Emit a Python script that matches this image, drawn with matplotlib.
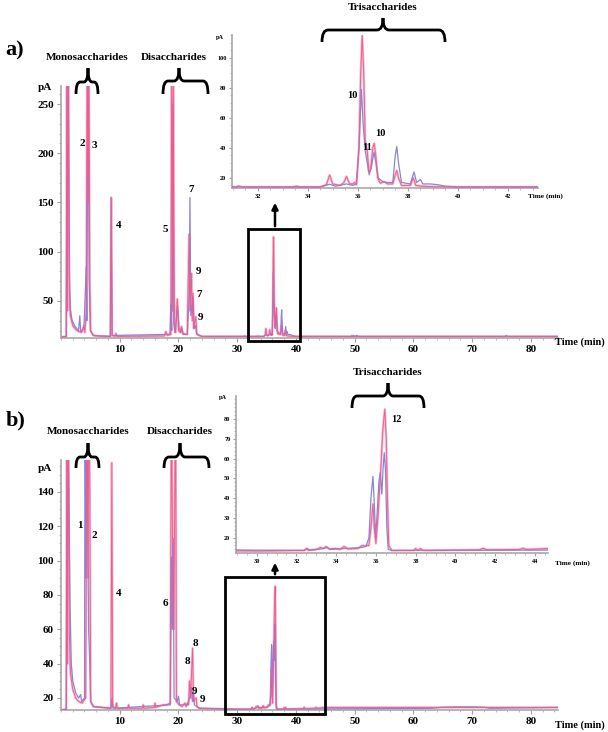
import matplotlib
matplotlib.use("Agg")
import matplotlib.pyplot as plt
from matplotlib.path import Path
from matplotlib.patches import PathPatch, Rectangle, FancyArrowPatch
from matplotlib.ticker import MultipleLocator

plt.rcParams['font.family'] = ['Liberation Serif', 'DejaVu Serif']
plt.rcParams['font.weight'] = 'bold'

# ---- panel a traces (time in min, signal in pA) ----
a_pink_t = [0.2, 0.9, 1.0, 1.1, 1.25, 1.4, 1.6, 2.0, 2.5, 3.0, 3.5, 3.9, 4.05, 4.3, 4.45, 4.6,
            4.75, 4.9, 5.05, 5.5, 6.0, 8.4, 8.55, 8.7, 9.2, 9.35, 9.5, 17.6, 17.85, 18.1, 18.7,
            18.85, 19.0, 19.1, 19.3, 19.5, 19.8, 20.0, 20.3, 20.5, 20.7, 21.5, 21.8, 21.95, 22.2,
            22.35, 22.45, 22.6, 22.95, 23.1, 23.5, 24.0, 31.1, 31.25, 31.4, 33.4, 33.55, 33.7,
            34.5, 34.75, 34.88, 35.0, 35.3, 35.45, 35.55, 35.68, 35.8, 35.88, 35.95, 36.05, 36.12,
            36.18, 36.24, 36.3, 36.38, 36.45, 36.52, 36.6, 36.66, 36.72, 36.8, 36.9, 37.05, 37.2,
            37.4, 37.5, 37.56, 37.63, 37.75, 38.1, 38.22, 38.32, 38.6, 39.0, 40.0, 49.3, 49.5,
            49.7, 84.5]
a_pink_v = [13.5, 14, 300, 40, 300, 60, 35, 25, 21, 19, 18, 25, 18, 40, 300, 150,
            300, 70, 20, 15, 14.5, 14, 155, 15, 14, 17, 14, 14.5, 19, 15, 16,
            300, 40, 300, 25, 18, 52, 20, 18, 24, 17, 16, 118, 40, 78,
            30, 58, 22, 34, 17, 15, 14, 14, 14.6, 14, 14, 14.5, 14,
            14, 15.5, 22, 16, 15, 17, 21, 16, 16, 17, 15.5, 40, 90,
            115, 90, 45, 38, 24, 26, 40, 43, 35, 20, 16.5, 17.5, 16,
            16, 22, 25, 20, 15, 15, 20, 15, 14.5, 14.2, 14, 14, 14.8,
            14, 14]

a_blue_t = [0.2, 0.9, 1.05, 1.2, 1.45, 1.6, 1.9, 2.4, 3.0, 3.2, 3.35, 3.9, 4.3, 4.4, 4.6, 4.8,
            5.0, 5.5, 8.4, 8.55, 8.7, 17.8, 18.55, 18.7, 18.85, 19.05, 19.2, 19.4, 19.85, 20.1,
            20.4, 20.6, 20.8, 21.5, 21.85, 21.95, 22.1, 22.5, 22.65, 22.95, 23.1, 23.6, 24.0, 34.5,
            34.88, 35.1, 35.55, 35.8, 35.95, 36.05, 36.15, 36.22, 36.3, 36.38, 36.46, 36.55,
            36.65, 36.73, 36.82, 37.0, 37.2, 37.4, 37.5, 37.56, 37.63, 37.75, 38.1, 38.25, 38.35,
            38.5, 38.6, 38.9, 39.2, 39.5, 40.0, 49.6, 49.8, 50.0, 50.4, 50.6, 75.6, 75.8, 76.0, 84.5]
a_blue_v = [13.5, 14, 300, 300, 74, 41, 30, 24, 20, 35, 19, 22, 85, 30, 300, 71,
            20, 15, 14, 155, 15, 16, 16.5, 46, 20, 250, 28, 18, 45, 23,
            18, 22, 16, 16, 60, 155, 35, 54, 22, 25, 16, 15, 14, 14,
            15.8, 14.5, 16, 15, 16, 40, 79, 55, 38, 30, 22, 28,
            37, 30, 20, 17.5, 17, 17, 35, 41, 30, 17, 16, 24, 17,
            19, 16, 16, 15.5, 14.5, 14, 14, 15, 14, 15, 14, 14, 15, 14, 14]

# ---- panel b traces ----
b_pink_t = [0.2, 0.9, 1.0, 1.1, 1.25, 1.4, 1.6, 2.0, 2.5, 3.0, 3.6, 4.2, 4.45, 4.6, 4.75, 4.9,
            5.05, 5.5, 8.5, 8.65, 8.8, 9.3, 9.45, 9.6, 11.4, 11.5, 11.6, 13.9, 14.0, 14.1, 15.9,
            16.0, 16.1, 17.0, 17.5, 18.0, 18.6, 18.8, 19.0, 19.2, 19.5, 19.65, 20.1, 20.6, 21.1,
            21.3, 21.5, 21.7, 21.9, 22.05, 22.4, 22.55, 23.0, 23.15, 23.6, 30.0, 32.4, 32.5,
            32.6, 33.1, 33.2, 33.35, 33.5, 33.65, 34.0, 34.2, 34.4, 34.6, 35.1, 35.3, 35.5, 35.65,
            35.75, 35.85, 35.92, 36.0, 36.1, 36.25, 36.35, 36.45, 36.52, 36.58, 36.65, 36.8, 37.9,
            38.0, 38.1, 38.25, 38.35, 41.2, 41.4, 41.6, 43.2, 43.4, 43.6, 44.7, 84.5]
b_pink_v = [13, 13.5, 200, 40, 200, 60, 35, 25, 20, 18, 17, 20, 200, 90, 200, 142,
            18, 15, 14, 157, 15, 14, 17, 14, 14, 16, 14, 14, 16, 14, 14.5,
            17, 14.5, 15.5, 16, 16, 17, 200, 100, 60, 200, 18, 16, 15, 17,
            15, 17, 16, 30, 20, 49, 18, 20, 15, 14, 13.2, 13.5, 14.5,
            13.5, 14.3, 15, 14.5, 15.5, 14.2, 14.5, 14, 15.5, 14.2, 14.5, 16, 15.8, 16,
            25, 37, 25, 17, 30, 55, 75, 85, 70, 40, 16, 13.5, 13.5,
            14.5, 13.5, 14.5, 13.5, 13.8, 14.6, 13.8, 14, 14.6, 14, 14.5, 14.5]

b_blue_t = [0.2, 0.9, 1.05, 1.3, 1.55, 1.75, 2.0, 2.5, 3.0, 3.35, 3.5, 4.0, 4.1, 4.25, 4.4,
            4.55, 4.7, 4.9, 5.05, 5.5, 8.5, 8.7, 8.85, 18.6, 18.8, 18.95, 19.1, 19.25, 19.8,
            20.0, 20.2, 21.5, 21.9, 22.2, 22.35, 22.55, 22.7, 23.5, 32.4, 32.55, 32.7, 33.4,
            33.55, 33.7, 35.3, 35.5, 35.65, 35.75, 35.85, 35.93, 35.98, 36.05, 36.15, 36.22,
            36.3, 36.36, 36.42, 36.48, 36.55, 36.62, 36.8, 63.0, 65.0, 67.0, 70.0, 72.0, 73.0, 84.5]
b_blue_v = [13, 13.5, 200, 150, 73, 40, 30, 23, 20, 22, 18, 20, 200, 90, 200,
            122, 60, 40, 18, 15, 14, 20, 14, 16, 102, 60, 113, 20, 18,
            21, 16, 16, 20, 26, 18, 24, 16, 14, 13.5, 14.5, 13.5, 14.5,
            15, 14, 15, 15.5, 20, 40, 51, 35, 20, 30, 48, 53,
            42, 55, 63, 55, 25, 14, 13.5, 14, 14.6, 14.8, 14.8, 14.6, 14, 14.5]

W, H = 608, 732
fig = plt.figure(figsize=(W / 100, H / 100), dpi=100)


def fx(px):
    return px / W


def fy(py):
    return 1 - py / H


def add_axes(x0, x1, ytop, ybot):
    return fig.add_axes([fx(x0), fy(ybot), fx(x1) - fx(x0), fy(ytop) - fy(ybot)])


def style(ax, fsize, xmaj, xmin, ymaj, ymin, ticklen):
    for s in ['top', 'right']:
        ax.spines[s].set_visible(False)
    for s in ['left', 'bottom']:
        ax.spines[s].set_color('#a8a8a8')
        ax.spines[s].set_linewidth(1.2)
    ax.patch.set_alpha(0)
    ax.xaxis.set_major_locator(MultipleLocator(xmaj))
    ax.xaxis.set_minor_locator(MultipleLocator(xmin))
    ax.yaxis.set_major_locator(MultipleLocator(ymaj))
    ax.yaxis.set_minor_locator(MultipleLocator(ymin))
    ax.tick_params(which='major', length=ticklen, width=0.8, color='#a0a0a0',
                   labelsize=fsize, pad=2)
    ax.tick_params(which='minor', length=ticklen * 0.6, width=0.6, color='#b0b0b0')
    for lab in ax.get_xticklabels() + ax.get_yticklabels():
        lab.set_fontweight('bold')


def draw_traces(ax, pt, pv, bt, bv, lw):
    # light pink halo under a thin hot-pink core, as in the instrument export
    ax.plot(pt, pv, color='#f7b4ca', lw=lw * 1.9, solid_joinstyle='round', zorder=2)
    ax.plot(bt, bv, color='#8a84d8', lw=lw, zorder=3)
    ax.plot(pt, pv, color='#ee5b8e', lw=lw * 0.7, zorder=4)


def brace(x0, x1, xc, ytip, ybody, ytop, r=5):
    pts = [(x0, ytip), (x0, ybody), (x0 + r, ybody), (xc - r, ybody), (xc, ybody), (xc, ytop),
           (xc, ybody), (xc + r, ybody), (x1 - r, ybody), (x1, ybody), (x1, ytip)]
    codes = [Path.MOVETO, Path.CURVE3, Path.CURVE3, Path.LINETO, Path.CURVE3, Path.CURVE3,
             Path.CURVE3, Path.CURVE3, Path.LINETO, Path.CURVE3, Path.CURVE3]
    path = Path([(fx(a), fy(b)) for a, b in pts], codes)
    fig.add_artist(PathPatch(path, transform=fig.transFigure, fill=False, lw=2, color='black'))


def ftext(px, py, s, size, **kw):
    fig.text(fx(px), fy(py), s, fontsize=size, fontweight='bold', ha='center', va='center', **kw)


def box(x0, x1, ytop, ybot):
    fig.add_artist(Rectangle((fx(x0), fy(ybot)), fx(x1) - fx(x0), fy(ytop) - fy(ybot),
                             transform=fig.transFigure, fill=False, lw=2, ec='black'))


def arrow(x, y0, y1):
    fig.add_artist(FancyArrowPatch((fx(x), fy(y0)), (fx(x), fy(y1)), transform=fig.transFigure,
                                   arrowstyle='-|>', mutation_scale=9, lw=1.8, color='black'))


# ================= panel a =================
ax_a = add_axes(61, 558, 86, 338)
draw_traces(ax_a, a_pink_t, a_pink_v, a_blue_t, a_blue_v, 0.9)
ax_a.set_xlim(0, 84.6)
ax_a.set_ylim(12.4, 268.3)
style(ax_a, 8, 10, 2, 50, 10, 3)
ax_a.set_xticks(range(10, 90, 10))
ax_a.set_yticks([50, 100, 150, 200, 250])

ins_a = add_axes(232, 538, 35, 188)
draw_traces(ins_a, a_pink_t, a_pink_v, a_blue_t, a_blue_v, 0.9)
ins_a.set_xlim(30.98, 43.2)
ins_a.set_ylim(13.3, 115.3)
style(ins_a, 4.5, 2, 0.5, 20, 5, 2)
ins_a.set_xticks(range(32, 44, 2))

ftext(45, 88, 'pA', 8)
ftext(220, 38, 'pA', 4.5)
ftext(580, 342, 'Time (min)', 7.5)
ftext(545, 196, 'Time (min)', 5.2)
ftext(15, 50, 'a)', 16)
ftext(87, 58, 'Monosaccharides', 8)
ftext(174, 58, 'Disaccharides', 8)
ftext(383, 7, 'Trisaccharides', 8)
brace(76, 98, 88, 94, 82, 68, 4)
brace(163, 208, 179, 94, 81, 68, 5)
brace(322, 445, 383, 42, 30, 18, 6)
for px, py, s in [(82, 143, '2'), (94, 145, '3'), (119, 226, '4'), (165, 230, '5'),
                  (191, 190, '7'), (198, 272, '9'), (199, 295, '7'), (201, 317, '9')]:
    ftext(px, py, s, 8)
for px, py, s in [(352, 95, '10'), (367, 147, '11'), (380, 133, '10')]:
    ftext(px, py, s, 7.5)
box(248, 300, 229, 341)
arrow(275, 229, 200)

# ================= panel b =================
ax_b = add_axes(61, 558, 460, 710)
draw_traces(ax_b, b_pink_t, b_pink_v, b_blue_t, b_blue_v, 0.9)
ax_b.set_xlim(0, 84.6)
ax_b.set_ylim(13.0, 158.6)
style(ax_b, 8, 10, 2, 20, 5, 3)
ax_b.set_xticks(range(10, 90, 10))
ax_b.set_yticks(range(20, 160, 20))

ins_b = add_axes(236, 548, 396, 553)
draw_traces(ins_b, b_pink_t, b_pink_v, b_blue_t, b_blue_v, 0.9)
ins_b.set_xlim(28.96, 44.66)
ins_b.set_ylim(12.2, 91.7)
style(ins_b, 4.5, 2, 0.5, 10, 2, 2)
ins_b.set_xticks(range(30, 46, 2))
ins_b.set_yticks(range(20, 90, 10))

ftext(45, 468, 'pA', 8)
ftext(223, 397, 'pA', 4.5)
ftext(580, 725, 'Time (min)', 7.5)
ftext(572, 563, 'Time (min)', 5.2)
ftext(16, 420, 'b)', 16)
ftext(88, 432, 'Monosaccharides', 8)
ftext(180, 432, 'Disaccharides', 8)
ftext(388, 373, 'Trisaccharides', 8)
brace(76, 99, 88, 468, 457, 443, 4)
brace(164, 209, 180, 468, 457, 443, 5)
brace(352, 424, 388, 408, 396, 383, 5)
for px, py, s in [(80, 526, '1'), (94, 535, '2'), (119, 593, '4'), (165, 604, '6'),
                  (195, 643, '8'), (187, 662, '8'), (195, 692, '9'), (203, 699, '9')]:
    ftext(px, py, s, 8)
ftext(396, 420, '12', 7.5)
box(225, 325, 577, 714)
arrow(275, 577, 560)

fig.savefig('out.png', dpi=100)
